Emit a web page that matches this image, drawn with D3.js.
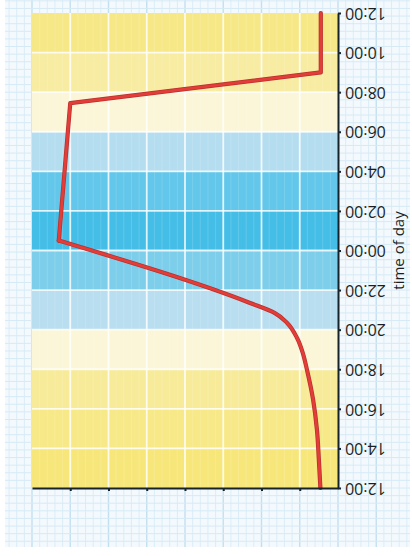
<!DOCTYPE html>
<html>
<head>
<meta charset="utf-8">
<script src="https://cdn.jsdelivr.net/npm/d3@7"></script>
<style>
  html, body { margin: 0; padding: 0; background: #ffffff; }
  svg { display: block; }
  text { font-family: "Open Sans", "Noto Sans", sans-serif; fill: #1b1f24; }
</style>
</head>
<body>
<svg id="chart" width="412" height="556"></svg>
<script>
// ---- data ----
// time axis: hours after 12:00 (noon) -> label
const tickHours = [0, 2, 4, 6, 8, 10, 12, 14, 16, 18, 20, 22, 24];
const tickLabels = ["12:00", "14:00", "16:00", "18:00", "20:00", "22:00", "00:00",
                    "02:00", "04:00", "06:00", "08:00", "10:00", "12:00"];
// value axis ticks (no labels)
const valueTicks = [1, 2, 3, 4, 5, 6, 7];
// background bands: start hour (after noon), end hour, colour
const bandStart = [0, 2, 4, 6, 8, 10, 12, 14, 16, 18, 20, 22];
const bandEnd   = [2, 4, 6, 8, 10, 12, 14, 16, 18, 20, 22, 24];
const bandColor = ["#f7e77a", "#f7e987", "#f7eb99", "#fbf6d8", "#b8def0", "#7dceeb",
                   "#45bee7", "#62c7ea", "#b4ddf0", "#fbf6d8", "#f7eca2", "#f7e887"];
// red curve: straight section and smooth section
const lineHours  = [24, 21.0, 19.45, 12.5];
const lineLevel  = [0.45, 0.45, 7.0, 7.3];
const curveHours = [12.5, 9.35, 8.84, 8.34, 7.58, 6.82, 5.96, 4.45, 2.93, 1.41, 0];
const curveLevel = [7.3, 2.30, 1.65, 1.33, 1.07, 0.92, 0.81, 0.65, 0.55, 0.50, 0.46];

// ---- drawing ----
const svg = d3.select("#chart");
const x = d3.scaleLinear().domain([0, 8]).range([338, 32]);
const y = d3.scaleLinear().domain([0, 24]).range([488, 13]);

// graph paper
const paper = svg.append("g");
const px0 = 5, px1 = 410, py0 = 0, py1 = 547;
paper.append("rect").attr("x", px0).attr("y", py0).attr("width", px1 - px0).attr("height", py1 - py0)
  .attr("fill", "#f3f9fd");
const step = 38.25 / 5;
const vx = d3.range(-60, 60).map(i => 338 + i * step).filter(v => v >= px0 && v <= px1);
const hy = d3.range(-80, 80).map(i => 488 + i * (19.79 / 2.6)).filter(v => v >= py0 && v <= py1);
paper.selectAll("line.v").data(vx).join("line")
  .attr("x1", d => d).attr("x2", d => d).attr("y1", py0).attr("y2", py1)
  .attr("stroke", d => Math.round((d - 338) / step) % 5 === 0 ? "#c3e0f0" : "#dbedf7")
  .attr("stroke-width", d => Math.round((d - 338) / step) % 5 === 0 ? 1.4 : 1);
paper.selectAll("line.h").data(hy).join("line")
  .attr("x1", px0).attr("x2", px1).attr("y1", d => d).attr("y2", d => d)
  .attr("stroke", "#d6eaf6").attr("stroke-width", 1);

// bands
svg.append("g").selectAll("rect").data(bandStart).join("rect")
  .attr("x", x(8)).attr("width", x(0) - x(8))
  .attr("y", (d, i) => y(bandEnd[i]))
  .attr("height", (d, i) => y(bandStart[i]) - y(bandEnd[i]))
  .attr("fill", (d, i) => bandColor[i]);

// faint inner texture lines
const inner = svg.append("g").attr("opacity", 0.15);
inner.selectAll("line").data(d3.range(1, 40)).join("line")
  .attr("x1", d => x(d * 0.2)).attr("x2", d => x(d * 0.2))
  .attr("y1", y(24)).attr("y2", y(0))
  .attr("stroke", "#ffffff").attr("stroke-width", 1);

// white grid over bands
const wg = svg.append("g").attr("stroke", "#ffffff").attr("stroke-opacity", 0.8).attr("stroke-width", 1.8);
wg.selectAll("line.v").data(valueTicks).join("line")
  .attr("x1", d => x(d)).attr("x2", d => x(d)).attr("y1", y(24)).attr("y2", y(0));
wg.selectAll("line.h").data(tickHours.slice(1, -1)).join("line")
  .attr("y1", d => y(d)).attr("y2", d => y(d)).attr("x1", x(8)).attr("x2", x(0));

// red curve
const lineGen = d3.line().x((d, i) => x(lineLevel[i])).y(d => y(d));
const curveGen = d3.line().x((d, i) => x(curveLevel[i])).y(d => y(d)).curve(d3.curveMonotoneY);
[["#b8302c", 4.2], ["#e23d38", 2.8]].forEach(([c, w]) => {
  svg.append("path").attr("d", lineGen(lineHours)).attr("fill", "none")
    .attr("stroke", c).attr("stroke-width", w).attr("stroke-linejoin", "round").attr("stroke-linecap", "round");
  svg.append("path").attr("d", curveGen(curveHours)).attr("fill", "none")
    .attr("stroke", c).attr("stroke-width", w).attr("stroke-linejoin", "round").attr("stroke-linecap", "round");
});

// axes
const xAxis = svg.append("g").attr("transform", `translate(0,${y(0)})`)
  .call(d3.axisBottom(x).tickValues(valueTicks).tickSize(3).tickSizeOuter(0).tickFormat(""));
const yAxis = svg.append("g").attr("transform", `translate(${x(0)},0)`)
  .call(d3.axisRight(y).tickValues(tickHours).tickSize(3).tickSizeOuter(0)
        .tickFormat((d, i) => tickLabels[i]));
[xAxis, yAxis].forEach(a => {
  a.select(".domain").attr("stroke", "#16232b").attr("stroke-width", 2);
  a.selectAll(".tick line").attr("stroke", "#16232b").attr("stroke-width", 2);
});
yAxis.selectAll(".tick text")
  .attr("x", 0).attr("dy", "0.36em")
  .attr("text-anchor", "end")
  .attr("transform", "translate(7,0) rotate(180)")
  .style("font-size", "16px")
  .style("font-family", "'Open Sans', sans-serif")
  .attr("fill", "#1b1f24");

// axis title
svg.append("text")
  .attr("transform", `translate(404,${(y(0) + y(24)) / 2}) rotate(-90)`)
  .attr("text-anchor", "middle")
  .style("font-size", "15px")
  .text("time of day");
</script>
</body>
</html>
